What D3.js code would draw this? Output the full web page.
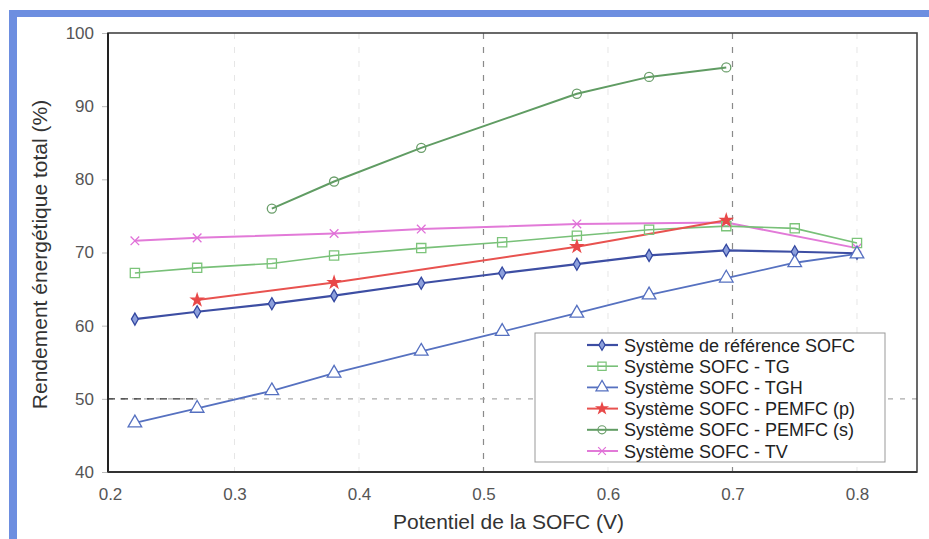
<!DOCTYPE html>
<html><head><meta charset="utf-8">
<script src="https://cdn.jsdelivr.net/npm/d3@7"></script>
<style>html,body{margin:0;padding:0;background:#fff;}svg{display:block;}</style>
</head><body>
<svg id="chart" width="929" height="539"></svg>
<script>
// ---- data ----
const xMain = [0.22, 0.27, 0.33, 0.38, 0.45, 0.515, 0.575, 0.633, 0.695, 0.75, 0.80];
const refVals = [60.9, 61.9, 63.0, 64.1, 65.8, 67.2, 68.4, 69.6, 70.3, 70.1, 69.9];
const tgVals = [67.2, 67.9, 68.5, 69.6, 70.6, 71.4, 72.3, 73.1, 73.6, 73.3, 71.3];
const tghVals = [46.7, 48.7, 51.1, 53.5, 56.5, 59.2, 61.7, 64.2, 66.5, 68.6, 69.8];
const xPemP = [0.27, 0.38, 0.575, 0.695];
const pemPVals = [63.5, 65.9, 70.8, 74.4];
const xPemS = [0.33, 0.38, 0.45, 0.575, 0.633, 0.695];
const pemSVals = [76.0, 79.7, 84.3, 91.7, 94.0, 95.3];
const xTV = [0.22, 0.27, 0.38, 0.45, 0.575, 0.695, 0.80];
const tvVals = [71.6, 72.0, 72.6, 73.2, 73.9, 74.1, 70.6];
const seriesNames = ["Système de référence SOFC", "Système SOFC - TG", "Système SOFC - TGH",
  "Système SOFC - PEMFC (p)", "Système SOFC - PEMFC (s)", "Système SOFC - TV"];
const xTicks = [0.2, 0.3, 0.4, 0.5, 0.6, 0.7, 0.8];
const yTicks = [40, 50, 60, 70, 80, 90, 100];
const xTitle = "Potentiel de la SOFC (V)";
const yTitle = "Rendement énergétique total (%)";

// ---- styles ----
const styles = [
  {color: "#3d4ea3", width: 2.2, sym: d3.symbolDiamond, size: 42, fill: "#8da0dc", stroke: "#3347a0"},
  {color: "#78c078", width: 1.6, sym: d3.symbolSquare, size: 85, fill: "none", stroke: "#7cc47a"},
  {color: "#5671c0", width: 1.8, sym: d3.symbolTriangle, size: 80, fill: "#fff", stroke: "#5570c0"},
  {color: "#e8524f", width: 2, sym: d3.symbolStar, size: 42, fill: "#e84848", stroke: "#e84848"},
  {color: "#609c63", width: 2, sym: d3.symbolCircle, size: 65, fill: "none", stroke: "#6a9e6a"},
  {color: "#e27ad8", width: 2, sym: d3.symbolTimes, size: 50, fill: "none", stroke: "#e070d8"}
];
const series = [
  {xs: xMain, ys: refVals}, {xs: xMain, ys: tgVals}, {xs: xMain, ys: tghVals},
  {xs: xPemP, ys: pemPVals}, {xs: xPemS, ys: pemSVals}, {xs: xTV, ys: tvVals}
].map((s, i) => ({name: seriesNames[i], pts: s.xs.map((x, j) => ({x, y: s.ys[j]})), st: styles[i]}));

const svg = d3.select("#chart");
const L = 108, R = 917, T = 33, B = 472;
const x = d3.scaleLinear().domain([0.1984, 0.8482]).range([L, R]);
const y = d3.scaleLinear().domain([40, 100]).range([B, T]);
const font = "'Liberation Sans', Arial, Helvetica, sans-serif";

// blue frame
svg.append("rect").attr("x", 9).attr("y", 10).attr("width", 920).attr("height", 7).attr("fill", "#6d8ee0");
svg.append("rect").attr("x", 9).attr("y", 10).attr("width", 8).attr("height", 529).attr("fill", "#6d8ee0");

// grid
const g = svg.append("g");
xTicks.filter(t => t > 0.2).forEach(t => {
  const dark = (t === 0.5 || t === 0.7);
  g.append("line").attr("x1", x(t)).attr("x2", x(t)).attr("y1", T).attr("y2", B)
    .attr("stroke", dark ? "#8a8a8a" : "#e6e6e6").attr("stroke-width", dark ? 1.2 : 1)
    .attr("stroke-dasharray", "6,8");
});
g.append("line").attr("x1", L).attr("x2", R).attr("y1", y(50)).attr("y2", y(50))
  .attr("stroke", "#aaaaaa").attr("stroke-width", 1.2).attr("stroke-dasharray", "5,7");
g.append("line").attr("x1", L).attr("x2", x(0.27)).attr("y1", y(50)).attr("y2", y(50))
  .attr("stroke", "#333").attr("stroke-width", 1.3).attr("stroke-dasharray", "7,6");

// axes
const yAxis = d3.axisLeft(y).tickValues(yTicks).tickSize(6).tickPadding(8).tickFormat(d3.format("d"));
const xAxis = d3.axisBottom(x).tickValues(xTicks).tickSize(0).tickPadding(16).tickFormat(d3.format(".1f"));
const ya = svg.append("g").attr("transform", `translate(${L},0)`).call(yAxis);
const xa = svg.append("g").attr("transform", `translate(0,${B})`).call(xAxis);
[ya, xa].forEach(a => {
  a.select(".domain").remove();
  a.selectAll(".tick line").attr("stroke", "#bbb");
  a.selectAll(".tick text").attr("font-family", font).attr("font-size", 17).attr("fill", "#555");
});

// plot border
svg.append("rect").attr("x", L).attr("y", T).attr("width", R - L).attr("height", B - T)
  .attr("fill", "none").attr("stroke", "#444").attr("stroke-width", 1.6);
svg.append("line").attr("x1", L).attr("x2", L).attr("y1", T).attr("y2", B).attr("stroke", "#222").attr("stroke-width", 2);
svg.append("line").attr("x1", L).attr("x2", R).attr("y1", B).attr("y2", B).attr("stroke", "#333").attr("stroke-width", 2);

// titles
svg.append("text").attr("x", (L + R) / 2 - 4).attr("y", 529).attr("text-anchor", "middle")
  .attr("font-family", font).attr("font-size", 21).attr("fill", "#333").text(xTitle);
svg.append("text").attr("transform", `translate(47,${(T + B) / 2 + 2}) rotate(-90)`).attr("text-anchor", "middle")
  .attr("font-family", font).attr("font-size", 21).attr("fill", "#333").text(yTitle);

// lines and markers
const line = d3.line().x(d => x(d.x)).y(d => y(d.y));
const drawOrder = [4, 5, 1, 3, 0, 2];
drawOrder.forEach(i => {
  const s = series[i];
  svg.append("path").datum(s.pts).attr("d", line).attr("fill", "none")
    .attr("stroke", s.st.color).attr("stroke-width", s.st.width).attr("stroke-linejoin", "round");
});
drawOrder.forEach(i => {
  const s = series[i];
  const sym = d3.symbol().type(s.st.sym).size(s.st.size);
  svg.append("g").selectAll("path").data(s.pts).join("path")
    .attr("transform", d => `translate(${x(d.x)},${y(d.y)})`).attr("d", sym)
    .attr("fill", s.st.fill).attr("stroke", s.st.stroke).attr("stroke-width", 1.3);
});

// legend
const lg = svg.append("g");
lg.append("rect").attr("x", 535).attr("y", 333).attr("width", 350).attr("height", 129)
  .attr("fill", "#fff").attr("stroke", "#999").attr("stroke-width", 1);
series.forEach((s, i) => {
  const cy = 345 + i * 21.2;
  lg.append("line").attr("x1", 587).attr("x2", 618).attr("y1", cy).attr("y2", cy)
    .attr("stroke", s.st.color).attr("stroke-width", s.st.width);
  lg.append("path").attr("transform", `translate(602,${cy})`)
    .attr("d", d3.symbol().type(s.st.sym).size(s.st.size * 0.8))
    .attr("fill", s.st.fill).attr("stroke", s.st.stroke).attr("stroke-width", 1.2);
  lg.append("text").attr("x", 624).attr("y", cy + 6.5).attr("font-family", font)
    .attr("font-size", 18).attr("fill", "#222").text(s.name);
});
</script>
</body></html>
